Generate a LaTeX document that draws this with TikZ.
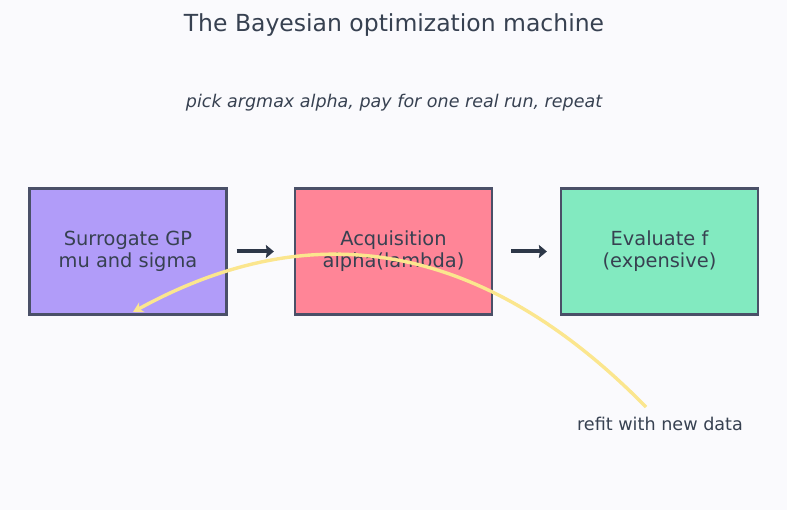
\documentclass[tikz,border=0pt]{standalone}
\usepackage{fontspec}
\setmainfont{DejaVu Sans}
\usetikzlibrary{arrows.meta}
\definecolor{bg}{HTML}{FAFAFD}
\definecolor{edge}{HTML}{4A5068}
\definecolor{ink}{HTML}{374151}
\definecolor{arr}{HTML}{2D3748}
\definecolor{pur}{HTML}{B19CF9}
\definecolor{pnk}{HTML}{FF8597}
\definecolor{grn}{HTML}{82EAC0}
\definecolor{yel}{HTML}{FBE68E}
\tikzset{
  stage/.style={draw=edge, line width=2.2pt, minimum width=197pt, minimum height=126pt, inner sep=0pt, align=center, text=ink, font=\fontsize{19.4}{22}\selectfont},
  flow/.style={draw=arr, line width=4pt, -{Stealth[length=8pt,width=13pt,inset=1pt]}},
  loop/.style={draw=yel, line width=3.4pt, -{Stealth[length=10pt,width=11pt]}}
}
\begin{document}
\begin{tikzpicture}[x=1pt,y=-1pt]
\fill[bg] (0,0) rectangle (787,510);
\useasboundingbox (0,0) rectangle (787,510);
\node[text=ink, font=\fontsize{23.5}{27}\selectfont] (title) at (394,25.5) {The Bayesian optimization machine};
\node[text=ink, font=\itshape\fontsize{17.5}{21}\selectfont] (sub) at (394,102.5) {pick argmax alpha, pay for one real run, repeat};
\node[stage, fill=pur] (sur) at (128,251.5) {Surrogate GP\\mu and sigma};
\node[stage, fill=pnk] (acq) at (393.5,251.5) {Acquisition\\alpha(lambda)};
\node[stage, fill=grn] (eva) at (659.5,251.5) {Evaluate f\\(expensive)};
\draw[flow] ([xshift=9pt]sur.east) -- ([xshift=-20pt]acq.west);
\draw[flow] ([xshift=18pt]acq.east) -- ([xshift=-13pt]eva.west);
\node[text=ink, font=\fontsize{17.6}{21}\selectfont] (refit) at (660,424) {refit with new data};
\coordinate (c0) at (646,407);
\coordinate (c1) at (133,312);
\draw[loop] (c0) .. controls (485,243) and (315,212) .. (c1);
\end{tikzpicture}
\end{document}
